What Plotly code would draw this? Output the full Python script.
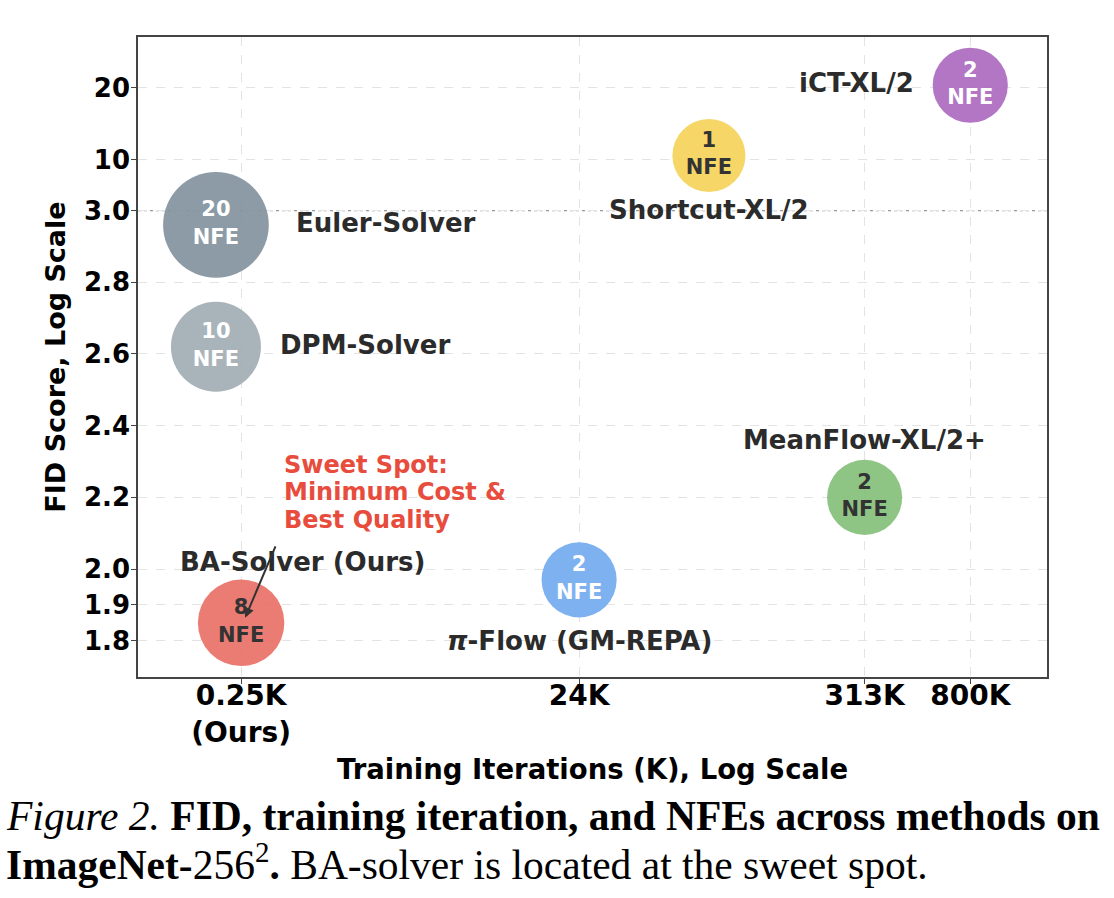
import numpy as np
import plotly.graph_objects as go

# ---------------- data ----------------
methods = ["Euler-Solver", "DPM-Solver", "BA-Solver (Ours)", "<i>π</i>-Flow (GM-REPA)",
           "MeanFlow-XL/2+", "Shortcut-XL/2", "iCT-XL/2"]
train_iters_k = [0, 0, 0.25, 24, 313, 78, 800]
fid = [2.96, 2.62, 1.85, 1.97, 2.20, 10.6, 20.3]
nfe = [20, 10, 8, 2, 2, 1, 2]

x_tick_values = [0.25, 24, 313, 800]
x_tick_labels = ["0.25K<br>(Ours)", "24K", "313K", "800K"]
y_tick_values = [1.8, 1.9, 2.0, 2.2, 2.4, 2.6, 2.8, 3.0, 10, 20]
y_tick_labels = ["1.8", "1.9", "2.0", "2.2", "2.4", "2.6", "2.8", "3.0", "10", "20"]

# ---------------- style ----------------
FONT = "DejaVu Sans"
bubble_colors = ["rgba(131,147,158,0.93)", "rgba(162,174,181,0.93)", "rgba(234,114,105,0.93)",
                 "rgba(116,171,239,0.93)", "rgba(135,193,123,0.93)", "rgba(244,211,91,0.93)",
                 "rgba(172,108,193,0.93)"]
inner_text_colors = ["white", "white", "#333333", "white", "#333333", "#333333", "white"]
# label placement: (xanchor, xshift, yshift)
label_place = [("left", 78, 2), ("left", 62, 2), ("center", 61, 61), ("center", 0, -61),
               ("center", 0, 57), ("center", 0, -55), ("right", -54, 2)]
LABEL_COLOR = "#2b2b2b"
RED = "#e74c3c"

BREAK = 3.0
COMPRESS = 49.5


def fx(k):
    return np.log10(np.asarray(k, dtype=float) + 1.0)


def fy(v):
    v = np.asarray(v, dtype=float)
    return np.where(v <= BREAK, v, BREAK + (v - BREAK) / COMPRESS)


xs = fx(train_iters_k)
ys = fy(fid)
sizes = np.sqrt(5030 + 307 * np.asarray(nfe, dtype=float))

fig = go.Figure()

fig.add_trace(go.Scatter(
    x=xs, y=ys, mode="markers+text",
    marker=dict(size=sizes, sizemode="diameter", color=bubble_colors, opacity=1,
                line=dict(width=0)),
    text=[f"{n}<br>NFE" for n in nfe],
    textposition="middle center",
    textfont=dict(family=FONT, size=21, color=inner_text_colors, weight="bold"),
    hoverinfo="skip", cliponaxis=False, showlegend=False,
))

annotations = []
for name, x, y, (xa, xsh, ysh) in zip(methods, xs, ys, label_place):
    annotations.append(dict(
        x=x, y=y, xref="x", yref="y", text=name, showarrow=False,
        xanchor=xa, yanchor="middle", xshift=xsh, yshift=ysh,
        font=dict(family=FONT, size=26, color=LABEL_COLOR, weight="bold"),
    ))

# Sweet spot text (anchored relative to BA-Solver point)
ba_x, ba_y = xs[2], ys[2]
for line, ysh in zip(["Sweet Spot:", "Minimum Cost &", "Best Quality"], [158, 131, 103]):
    annotations.append(dict(
        x=ba_x, y=ba_y, xref="x", yref="y", text=line, showarrow=False,
        xanchor="left", yanchor="middle", xshift=41, yshift=ysh,
        font=dict(family=FONT, size=24, color=RED, weight="bold"),
    ))
# arrow to BA-Solver
annotations.append(dict(
    x=ba_x, y=ba_y, xref="x", yref="y", text="", showarrow=True,
    xshift=4, yshift=5, ax=31, ay=-73, arrowhead=2, arrowsize=1, arrowwidth=2,
    arrowcolor="#333333",
))

# caption
annotations.append(dict(
    x=-0.1475, y=-0.2165, xref="paper", yref="paper", xanchor="left", yanchor="middle",
    showarrow=False,
    text="<i>Figure 2.</i> <b>FID, training iteration, and NFEs across methods on</b>",
    font=dict(family="Liberation Serif", size=41.5, color="black"),
))
annotations.append(dict(
    x=-0.1475, y=-0.2895, xref="paper", yref="paper", xanchor="left", yanchor="middle",
    showarrow=False,
    text="<b>ImageNet-</b>256<sup>2</sup><b>.</b> BA-solver is located at the sweet spot.",
    font=dict(family="Liberation Serif", size=41.5, color="black"),
))

axis_common = dict(
    showgrid=True, gridcolor="#e3e3e3", griddash="dash", gridwidth=1,
    zeroline=False, showline=True, mirror=True, linecolor="#444444", linewidth=1.5,
    ticks="outside", ticklen=5, tickcolor="#444444",
)

fig.update_layout(
    width=1114, height=898,
    margin=dict(l=138, r=67, t=37, b=221),
    paper_bgcolor="white", plot_bgcolor="white",
    xaxis=dict(
        range=[-0.300, 3.199], tickmode="array",
        tickvals=fx(x_tick_values), ticktext=x_tick_labels,
        tickfont=dict(family=FONT, size=28, color="black", weight="bold"),
        ticklabelstandoff=-12,
        title=dict(text="Training Iterations (K), Log Scale",
                   font=dict(family=FONT, size=27.5, color="black", weight="bold"), standoff=12),
        **axis_common,
    ),
    yaxis=dict(
        range=[1.699, 3.484], tickmode="array",
        tickvals=fy(y_tick_values), ticktext=y_tick_labels,
        tickfont=dict(family=FONT, size=26, color="black", weight="bold"),
        ticklabelstandoff=-4,
        title=dict(text="FID Score, Log Scale",
                   font=dict(family=FONT, size=27, color="black", weight="bold"), standoff=11),
        **axis_common,
    ),
    annotations=annotations,
    shapes=[dict(type="line", xref="paper", yref="y", x0=0, x1=1, y0=BREAK, y1=BREAK,
                 line=dict(color="#999999", width=1.2, dash="dot"), layer="below")],
)

fig.write_html("out.html")
